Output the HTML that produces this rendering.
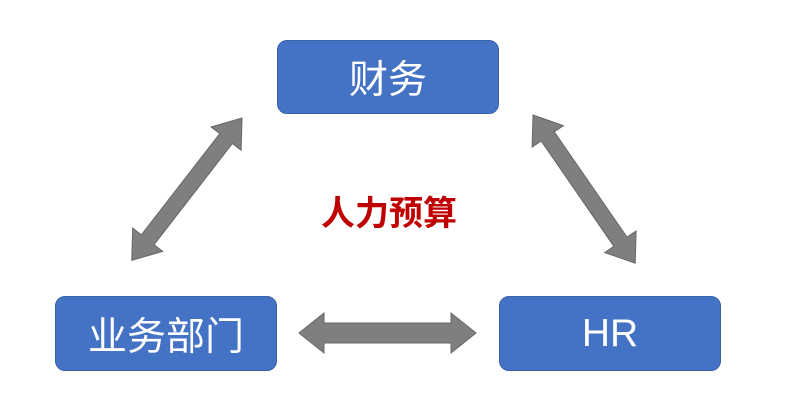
<!DOCTYPE html>
<html><head><meta charset="utf-8"><style>
html,body{margin:0;padding:0;background:#fff;width:792px;height:415px;overflow:hidden}
.b{position:absolute;background:#4472c4;border:1px solid #3a62a8;border-radius:10px;color:#fff;display:flex;align-items:center;justify-content:center;font-family:"Liberation Sans","Noto Sans CJK SC",sans-serif;font-size:39px}
</style></head><body>
<svg width="792" height="415" style="position:absolute;left:0;top:0">
<g fill="#7f7f7f" stroke="#666" stroke-width="1">
<polygon points="299,333 324,313 324,323 451,323 451,313 476,333 451,353 451,343 324,343 324,353"/>
<g transform="translate(242,118) rotate(127.76)">
<polygon points="0,0 26,-19 26,-8 154,-8 154,-19 180,0 154,19 154,8 26,8 26,19"/>
</g>
<g transform="translate(533,115) rotate(55.4)">
<polygon points="0,0 26,-19 26,-8 154,-8 154,-19 180,0 154,19 154,8 26,8 26,19"/>
</g>
</g>
<text x="389" y="225" text-anchor="middle" fill="#c00000" font-weight="bold" font-size="34" font-family="Liberation Sans, Noto Sans CJK SC, sans-serif">人力预算</text>
</svg>
<div class="b" style="left:277px;top:40px;width:220px;height:72px">财务</div>
<div class="b" style="left:55px;top:296px;width:220px;height:73px">业务部门</div>
<div class="b" style="left:499px;top:296px;width:220px;height:73px">HR</div>
</body></html>
